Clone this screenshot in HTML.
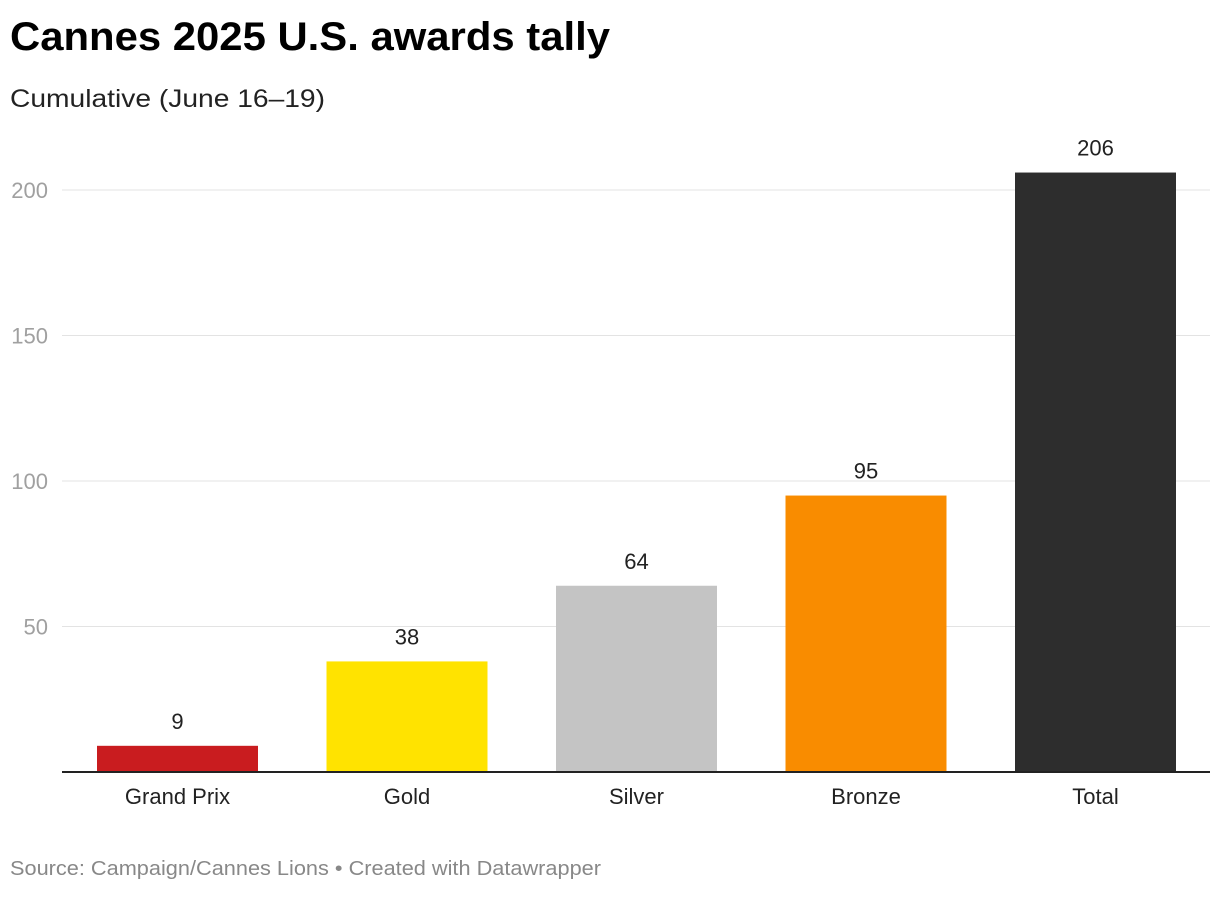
<!DOCTYPE html>
<html><head><meta charset="utf-8"><style>
body{margin:0;background:#fff;font-family:"Liberation Sans",Arial,sans-serif;}
svg text{font-family:"Liberation Sans",Arial,sans-serif;}
</style></head><body>
<svg width="1220" height="892">
<text x="10" y="50" font-size="40" font-weight="bold" fill="#000" textLength="600" lengthAdjust="spacingAndGlyphs">Cannes 2025 U.S. awards tally</text>
<text x="10" y="107" font-size="25" fill="#222" textLength="315" lengthAdjust="spacingAndGlyphs">Cumulative (June 16–19)</text>
<g id="grid"></g><g id="bars"></g>
<line x1="62" x2="1210" y1="772" y2="772" stroke="#222" stroke-width="2"/>
<text x="10" y="875" font-size="20" fill="#888" textLength="591" lengthAdjust="spacingAndGlyphs">Source: Campaign/Cannes Lions • Created with Datawrapper</text>
</svg>
<script>
const categories=["Grand Prix","Gold","Silver","Bronze","Total"];
const values=[9,38,64,95,206];
const colors=["#c91c1f","#ffe300","#c4c4c4","#f98c00","#2d2d2d"];
const ticks=[50,100,150,200];
const NS="http://www.w3.org/2000/svg";
const y=v=>772-v*2.91;
const xc=i=>177.5+i*229.5;
const g=document.getElementById("grid"),b=document.getElementById("bars");
function mk(t,a,p,txt){const e=document.createElementNS(NS,t);for(const k in a)e.setAttribute(k,a[k]);if(txt!=null)e.textContent=txt;p.appendChild(e);return e;}
ticks.forEach(t=>{
 const l=mk("line",{x1:62,x2:1210,y1:y(t),y2:y(t),stroke:"#e3e3e3","stroke-width":1},g);
 
 
 const tx=mk("text",{x:48,y:y(t)+8,"font-size":22,fill:"#a0a0a0","text-anchor":"end"},g,String(t));
 
 
});
values.forEach((v,i)=>{
 const r=mk("rect",{x:xc(i)-80.5,y:y(v),width:161,height:772-y(v),fill:colors[i]},b);
 
 
 const vl=mk("text",{x:xc(i),y:y(v)-17,"font-size":22,fill:"#222","text-anchor":"middle"},b,String(v));
 
 
 const cl=mk("text",{x:xc(i),y:804,"font-size":22,fill:"#222","text-anchor":"middle"},b,categories[i]);
 
 
});
</script>
</body></html>
